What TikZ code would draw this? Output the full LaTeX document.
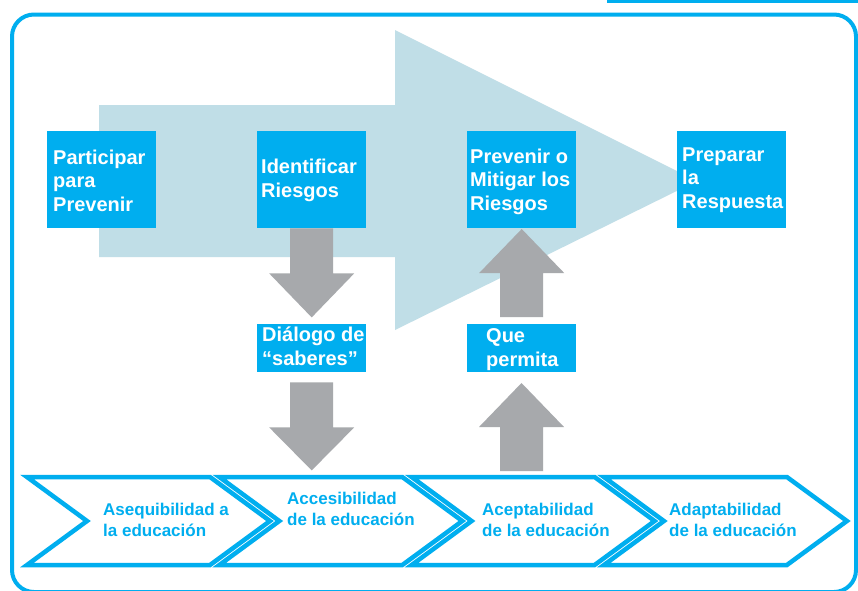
\documentclass[tikz,border=0pt]{standalone}
\usepackage{fontspec}
\setmainfont{Liberation Sans}
\usetikzlibrary{calc}
\definecolor{cy}{RGB}{0,174,239}
\definecolor{lb}{RGB}{192,222,231}
\definecolor{gr}{RGB}{167,169,172}
\newcommand\garrowpath[3]{%
  \fill[garrow] ($(#1)+(-21.5,0)$) -- ++(0,#2) -- ++(-21,0) -- ++(42.5,#3)
    -- ++(42.5,{-(#3)}) -- ++(-21,0) -- ++(0,{-(#2)}) -- cycle;}
\newcommand\chevronat[2]{%
  \coordinate (#2) at (#1,477);
  \draw[chevron] (#2) -- ++(183,0) -- ++(60,44) -- ++(-60,44) -- ++(-183,0) -- ++(60,-44) -- cycle;}
\begin{document}
\begin{tikzpicture}[x=1pt,y=-1pt,
  box/.style={fill=cy, draw=none, minimum width=109pt, minimum height=97pt, inner sep=0pt, anchor=north west},
  smallbox/.style={box, minimum height=48pt},
  btext/.style={text=white, font=\fontsize{20}{23.5}\selectfont\bfseries, align=left, anchor=base west, inner sep=0pt},
  ctext/.style={text=cy, font=\fontsize{17}{20.5}\selectfont\bfseries, align=left, anchor=base west, inner sep=0pt},
  chevron/.style={draw=cy, line width=4.5pt, fill=white, line join=miter, miter limit=10},
  frame/.style={draw=cy, line width=4pt, rounded corners=22pt},
  garrow/.style={fill=gr, draw=none},
  bigarrow/.style={fill=lb, draw=none}]
\useasboundingbox (0,0) rectangle (858,590);
\fill[white] (0,0) rectangle (858,590);
\draw[cy, line width=3pt] (607,1) -- (862,1);
\draw[frame] (12,14.5) rectangle (856,592);
% big light arrow
\fill[bigarrow] (99,105) -- (395,105) -- (395,30) -- (697,181) -- (395,330) -- (395,257) -- (99,257) -- cycle;
% boxes
\node[box] (pp) at (47,131) {};
\node[box] (ir) at (257,131) {};
\node[box] (pm) at (467,131) {};
\node[box] (pr) at (677,131) {};
\node[smallbox] (ds) at (257,324) {};
\node[smallbox] (qp) at (467,324) {};
% chevrons
\chevronat{27}{ch1}
\chevronat{219.3}{ch2}
\chevronat{411.6}{ch3}
\chevronat{603.9}{ch4}
% gray arrows
\coordinate (d2) at ($(ds.south)+(0,10)$);
\coordinate (u1) at ($(qp.north)+(0,-7)$);
\coordinate (u2) at ($(ch3)+(109.9,-6)$);
\garrowpath{ir.south}{45}{44}
\garrowpath{d2}{45}{43}
\garrowpath{u1}{-44}{-44}
\garrowpath{u2}{-44}{-44}
% texts (anchor = baseline of the last line)
\node[btext] at (53,211) {Participar\\para\\Prevenir};
\node[btext] at (261,197) {Identificar\\Riesgos};
\node[btext] at (470,210) {Prevenir o\\Mitigar los\\Riesgos};
\node[btext] at (682,208) {Preparar\\la\\Respuesta};
\node[btext] at (262,365) {Diálogo de\\“saberes”};
\node[btext] at (486,366) {Que\\permita};
\node[ctext] at (103,536) {Asequibilidad a\\la educación};
\node[ctext] at (287,525) {Accesibilidad\\de la educación};
\node[ctext] at (482,536) {Aceptabilidad\\de la educación};
\node[ctext] at (669,536) {Adaptabilidad\\de la educación};
\end{tikzpicture}
\end{document}
